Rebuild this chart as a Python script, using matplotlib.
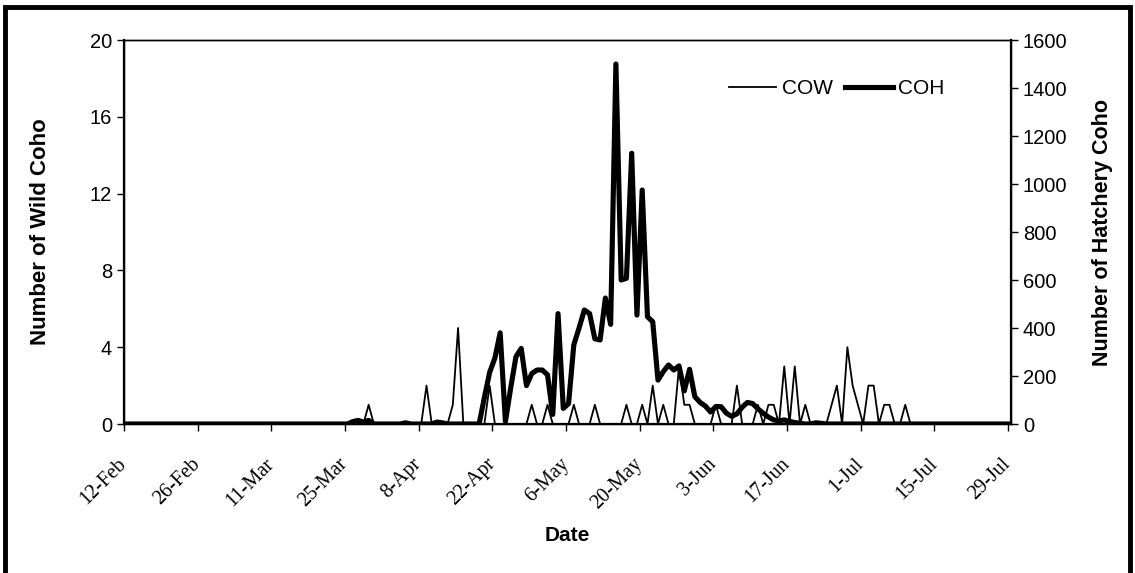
import numpy as np
import matplotlib.pyplot as plt
from matplotlib.patches import Rectangle
from matplotlib.transforms import ScaledTranslation

# daily counts, 12-Feb .. 29-Jul (leap year), one value per day
cow = [0, 0, 0, 0, 0, 0, 0, 0, 0, 0, 0, 0, 0, 0,
       0, 0, 0, 0, 0, 0, 0, 0, 0, 0, 0, 0, 0, 0,
       0, 0, 0, 0, 0, 0, 0, 0, 0, 0, 0, 0, 0, 0,
       0, 0, 0, 0, 1, 0, 0, 0, 0, 0, 0, 0, 0, 0,
       0, 2, 0, 0, 0, 0, 1, 5, 0, 0, 0, 0, 0, 2,
       0, 0, 0, 0, 0, 0, 0, 1, 0, 0, 1, 0, 0, 0,
       0, 1, 0, 0, 0, 1, 0, 0, 0, 0, 0, 1, 0, 0,
       1, 0, 2, 0, 1, 0, 0, 3, 1, 1, 0, 0, 0, 0,
       1, 0, 0, 0, 2, 0, 0, 0, 1, 0, 1, 1, 0, 3,
       0, 3, 0, 1, 0, 0, 0, 0, 1, 2, 0, 4, 2, 1,
       0, 2, 2, 0, 1, 1, 0, 0, 1, 0, 0, 0, 0, 0,
       0, 0, 0, 0, 0, 0, 0, 0, 0, 0, 0, 0, 0, 0,
       0]

coh = [0, 0, 0, 0, 0, 0, 0, 0, 0, 0, 0, 0, 0, 0,
       0, 0, 0, 0, 0, 0, 0, 0, 0, 0, 0, 0, 0, 0,
       0, 0, 0, 0, 0, 0, 0, 0, 0, 0, 0, 0, 0, 0,
       0, 10, 15, 8, 15, 0, 0, 0, 0, 0, 0, 5, 0, 0,
       0, 0, 0, 8, 5, 0, 0, 0, 0, 0, 0, 0, 110, 215,
       275, 380, 10, 150, 280, 315, 160, 210, 225, 225, 205, 40, 460, 65,
       85, 330, 400, 475, 460, 355, 350, 525, 415, 1500, 600, 607, 1128, 454,
       975, 447, 426, 183, 218, 246, 225, 242, 138, 228, 114, 90, 75, 50,
       73, 72, 45, 32, 42, 70, 90, 85, 63, 45, 29, 17, 13, 17,
       11, 6, 3, 0, 0, 5, 3, 0, 0, 0, 0, 0, 0, 0,
       0, 0, 0, 0, 0, 0, 0, 0, 0, 0, 0, 0, 0, 0,
       0, 0, 0, 0, 0, 0, 0, 0, 0, 0, 0, 0, 0, 0,
       0]

date_labels = ['12-Feb', '26-Feb', '11-Mar', '25-Mar', '8-Apr', '22-Apr', '6-May',
               '20-May', '3-Jun', '17-Jun', '1-Jul', '15-Jul', '29-Jul']

sans = 'Liberation Sans'
serif = 'Liberation Serif'

fig = plt.figure(figsize=(11.35, 5.73), dpi=100)
ax = fig.add_axes([124 / 1135, 1 - 424 / 573, (1011 - 124) / 1135, (424 - 40) / 573])
ax2 = ax.twinx()

days = np.arange(len(cow)) + 0.5
l1, = ax.plot(days, cow, '-', color='black', lw=1.3, label='COW')
l2, = ax2.plot(days, coh, '-', color='black', lw=3.7, label='COH')

ax.set_xlim(0, 168.6)
ax.set_ylim(0, 20)
ax2.set_ylim(0, 1600)
ax.set_yticks(np.arange(0, 21, 4))
ax2.set_yticks(np.arange(0, 1601, 200))
ax.set_xticks(np.arange(0, 169, 14))
ax.set_xticklabels(date_labels, rotation=45, ha='right', va='center',
                   rotation_mode='anchor', family=serif, fontsize=15)
shift = ScaledTranslation(-5 / 100, 0, fig.dpi_scale_trans)
for t in ax.get_xticklabels():
    t.set_transform(t.get_transform() + shift)

for a in (ax, ax2):
    for s in a.spines.values():
        s.set_linewidth(1.0)
    a.tick_params(direction='out', length=5, width=1, labelsize=14.5)
ax.spines['left'].set_linewidth(1.6)
ax2.spines['right'].set_linewidth(1.6)
ax.spines['bottom'].set_linewidth(1.6)
ax.tick_params(axis='x', pad=22)
for t in ax.get_yticklabels() + ax2.get_yticklabels():
    t.set_family(sans)

ax.set_ylabel('Number of Wild Coho', family=sans, fontsize=16, fontweight='bold', labelpad=28)
ax2.set_ylabel('Number of Hatchery Coho', family=sans, fontsize=15.5, fontweight='bold', labelpad=18)
ax.set_xlabel('Date', family=sans, fontsize=15, fontweight='bold', labelpad=9)

ax2.legend([l1, l2], ['COW', 'COH'], loc='upper right', bbox_to_anchor=(0.937, 0.925),
           ncol=2, frameon=False, handlelength=2.3, handletextpad=0.25, columnspacing=0.6,
           borderpad=0, prop={'family': sans, 'size': 15})

fig.patches.append(Rectangle((5 / 1135, -0.1), 1125 / 1135, 1.1 - 7 / 573, transform=fig.transFigure,
                             fill=False, edgecolor='black', linewidth=3.5))

fig.savefig('out.png', dpi=100)
